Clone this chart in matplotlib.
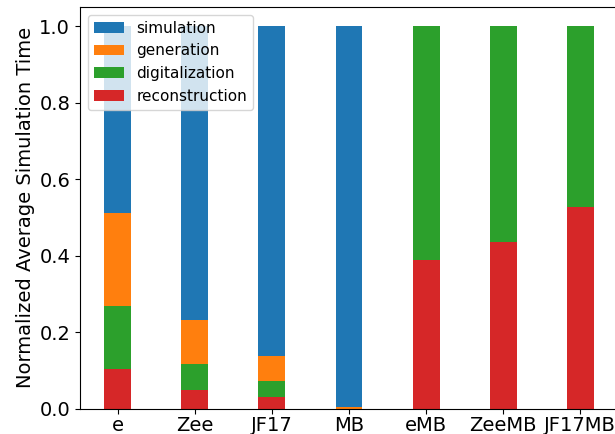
import numpy as np
import matplotlib
matplotlib.use("Agg")
import matplotlib.pyplot as plt

samples = ["e", "Zee", "JF17", "MB", "eMB", "ZeeMB", "JF17MB"]

# Fraction of average time spent in each step (each sample sums to 1)
reconstruction = [0.103, 0.048, 0.032, 0.000, 0.388, 0.436, 0.527]
digitalization = [0.165, 0.070, 0.041, 0.000, 0.612, 0.564, 0.473]
generation     = [0.244, 0.114, 0.066, 0.004, 0.000, 0.000, 0.000]
simulation     = [0.488, 0.768, 0.861, 0.996, 0.000, 0.000, 0.000]

x = np.arange(len(samples))
width = 0.35

fig = plt.figure(figsize=(6.15, 4.34), dpi=100)
ax = fig.add_axes([0.130, 0.058, 0.875, 0.926])

reco = np.array(reconstruction)
digi = np.array(digitalization)
gen = np.array(generation)
sim = np.array(simulation)

ax.bar(x, sim, width, bottom=reco + digi + gen, color="C0", label="simulation")
ax.bar(x, gen, width, bottom=reco + digi, color="C1", label="generation")
ax.bar(x, digi, width, bottom=reco, color="C2", label="digitalization")
ax.bar(x, reco, width, color="C3", label="reconstruction")

ax.set_ylim(0, 1.05)
ax.set_xticks(x)
ax.set_xticklabels(samples)
ax.tick_params(axis="both", labelsize=14)
ax.tick_params(axis="x", pad=2)
ax.set_ylabel("Normalized Average Simulation Time", fontsize=14, labelpad=3)
ax.legend(loc="upper left", fontsize=11)

fig.savefig("out.png", dpi=100)
